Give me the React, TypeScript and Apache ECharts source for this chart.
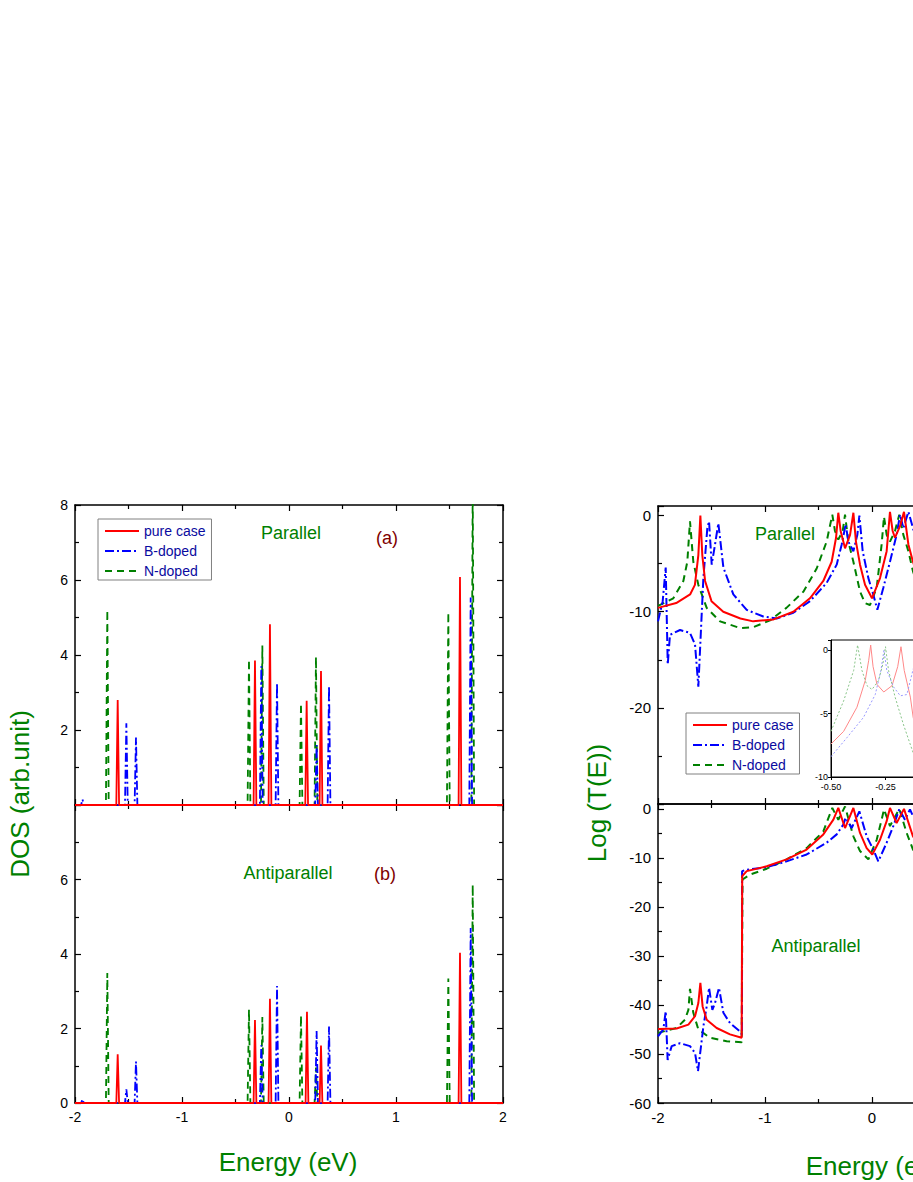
import React, { useEffect, useRef } from "react";
import * as echarts from "echarts";

type P = [number, number];

const seriesNames = ["pure case", "B-doped", "N-doped"];
const panelLabels = ["Parallel", "Antiparallel"];
const panelTags = ["(a)", "(b)"];

// ---- DOS, Parallel (a) ----
const dosParPure: P[] = [[-2,0],[-1.614,0],[-1.601,2.8],[-1.588,0],[-0.331,0],[-0.318,3.85],[-0.305,0],[-0.191,0],[-0.178,4.82],[-0.165,0],[0.152,0],[0.165,2.78],[0.178,0],[0.286,0],[0.299,3.57],[0.312,0],[1.585,0],[1.598,6.08],[1.611,0],[2,0]];
const dosParB: P[] = [[-2,0],[-1.943,0],[-1.93,0.15],[-1.917,0],[-1.533,0],[-1.52,2.18],[-1.507,0],[-1.443,0],[-1.43,1.8],[-1.417,0],[-0.272,0],[-0.259,3.7],[-0.246,0],[-0.125,0],[-0.112,3.26],[-0.099,0],[0.245,0],[0.258,1.6],[0.271,0],[0.361,0],[0.374,3.18],[0.387,0],[1.685,0],[1.698,5.53],[1.711,0],[2,0]];
const dosParN: P[] = [[-2,0],[-1.711,0],[-1.698,5.2],[-1.685,0],[-0.387,0],[-0.374,3.88],[-0.361,0],[-0.262,0],[-0.249,4.25],[-0.236,0],[0.099,0],[0.112,2.71],[0.125,0],[0.239,0],[0.252,3.95],[0.265,0],[1.476,0],[1.489,5.14],[1.502,0],[1.704,0],[1.717,8.6],[1.73,0],[2,0]];

// ---- DOS, Antiparallel (b) ----
const dosAntiPure: P[] = [[-2,0],[-1.614,0],[-1.601,1.31],[-1.588,0],[-0.331,0],[-0.318,2.23],[-0.305,0],[-0.191,0],[-0.178,2.8],[-0.165,0],[0.155,0],[0.168,2.45],[0.181,0],[0.286,0],[0.299,1.54],[0.312,0],[1.585,0],[1.598,4.03],[1.611,0],[2,0]];
const dosAntiB: P[] = [[-2,0],[-1.943,0],[-1.93,0.1],[-1.917,0],[-1.533,0],[-1.52,0.37],[-1.507,0],[-1.443,0],[-1.43,1.11],[-1.417,0],[-0.272,0],[-0.259,1.55],[-0.246,0],[-0.125,0],[-0.112,3.14],[-0.099,0],[0.245,0],[0.258,1.93],[0.271,0],[0.361,0],[0.374,2.05],[0.387,0],[1.685,0],[1.698,4.7],[1.711,0],[2,0]];
const dosAntiN: P[] = [[-2,0],[-1.711,0],[-1.698,3.49],[-1.685,0],[-0.387,0],[-0.374,2.51],[-0.361,0],[-0.262,0],[-0.249,2.31],[-0.236,0],[0.099,0],[0.112,2.35],[0.125,0],[0.239,0],[0.252,0.95],[0.265,0],[1.476,0],[1.489,3.34],[1.502,0],[1.704,0],[1.717,5.86],[1.73,0],[2,0]];

// ---- Log T(E), Parallel ----
const tParPure: P[] = [[-2,-9.6],[-1.83,-9.1],[-1.70,-8.2],[-1.655,-7.2],[-1.623,-4.1],[-1.604,0],[-1.586,-4.1],[-1.56,-6.8],[-1.50,-8.9],[-1.39,-10.0],[-1.23,-10.7],[-1.11,-11.0],[-0.92,-10.8],[-0.735,-10.0],[-0.58,-8.6],[-0.455,-6.8],[-0.377,-4.8],[-0.336,-2.3],[-0.315,0.3],[-0.293,-1.6],[-0.252,-3.4],[-0.205,-2.0],[-0.174,0.3],[-0.15,-2.7],[-0.112,-5.1],[-0.065,-7.2],[0,-8.6],[0.075,-6.5],[0.137,-3.7],[0.168,0.4],[0.193,-1.6],[0.215,-2.3],[0.262,-1.1],[0.299,0.4],[0.34,-3.0],[0.383,-4.8],[0.45,-7.0]];
const tParB: P[] = [[-2,-11.0],[-1.956,-8.9],[-1.928,-5.4],[-1.909,-15.5],[-1.888,-12.4],[-1.794,-11.9],[-1.701,-12.2],[-1.654,-13.4],[-1.623,-17.8],[-1.576,-6.5],[-1.539,-1.3],[-1.523,-0.6],[-1.498,-5.1],[-1.467,-3.0],[-1.436,-0.8],[-1.389,-5.4],[-1.296,-8.2],[-1.171,-9.8],[-1.016,-10.5],[-0.891,-10.7],[-0.735,-10.1],[-0.579,-8.9],[-0.424,-7.0],[-0.33,-5.1],[-0.283,-3.0],[-0.246,-0.9],[-0.221,-2.7],[-0.174,-3.7],[-0.137,-2.0],[-0.118,0],[-0.087,-3.7],[-0.034,-6.5],[0.012,-8.2],[0.05,-9.8],[0.106,-7.5],[0.168,-4.8],[0.23,-2.0],[0.262,0.1],[0.293,-1.3],[0.34,0.4],[0.383,-1.3],[0.45,-4.0]];
const tParN: P[] = [[-2,-9.4],[-1.857,-8.6],[-1.763,-6.8],[-1.726,-4.8],[-1.701,-0.6],[-1.67,-4.8],[-1.623,-7.2],[-1.545,-9.6],[-1.42,-11.0],[-1.234,-11.7],[-1.11,-11.6],[-0.953,-10.9],[-0.8,-9.6],[-0.64,-7.9],[-0.517,-5.5],[-0.424,-2.7],[-0.371,0.1],[-0.346,-1.6],[-0.315,-2.5],[-0.274,-1.6],[-0.252,0.1],[-0.221,-2.7],[-0.174,-4.8],[-0.112,-7.9],[-0.065,-9.1],[-0.019,-9.3],[0.044,-7.5],[0.09,-3.0],[0.112,-0.1],[0.137,-2.0],[0.168,-2.7],[0.215,-1.6],[0.255,0.1],[0.293,-2.0],[0.34,-3.7],[0.383,-5.8],[0.45,-8.0]];

// ---- Log T(E), Antiparallel ----
const tAntiPure: P[] = [[-2,-44.9],[-1.826,-44.8],[-1.716,-44.0],[-1.654,-42.3],[-1.623,-39.6],[-1.604,-35.5],[-1.583,-40.3],[-1.545,-43.0],[-1.452,-44.7],[-1.327,-46.0],[-1.218,-46.7],[-1.215,-46.8],[-1.213,-13.7],[-1.171,-12.7],[-0.984,-11.7],[-0.798,-10.3],[-0.611,-8.3],[-0.455,-5.2],[-0.361,-2.2],[-0.315,0.2],[-0.252,-3.9],[-0.174,0.2],[-0.112,-4.9],[-0.05,-8.0],[0.003,-9.3],[0.075,-6.3],[0.137,-2.5],[0.168,0.2],[0.23,-2.9],[0.299,0],[0.383,-5.6],[0.45,-8.0]];
const tAntiB: P[] = [[-2,-46.4],[-1.95,-45.0],[-1.928,-41.3],[-1.91,-51.2],[-1.872,-48.4],[-1.794,-47.8],[-1.701,-48.4],[-1.654,-49.8],[-1.626,-53.5],[-1.576,-44.4],[-1.545,-40.3],[-1.523,-36.5],[-1.492,-41.0],[-1.467,-39.6],[-1.43,-36.5],[-1.389,-41.6],[-1.327,-43.7],[-1.234,-45.4],[-1.216,-46.0],[-1.214,-12.7],[-1.171,-12.4],[-0.984,-11.9],[-0.798,-10.7],[-0.611,-9.3],[-0.424,-6.9],[-0.33,-5.2],[-0.268,-3.2],[-0.246,-1.8],[-0.19,-3.9],[-0.118,-0.5],[-0.05,-5.6],[0.012,-8.3],[0.059,-10.7],[0.137,-6.9],[0.199,-3.5],[0.255,-0.1],[0.308,-2.2],[0.355,-0.1],[0.383,-1.5],[0.45,-4.0]];
const tAntiN: P[] = [[-2,-45.7],[-1.826,-44.7],[-1.748,-43.0],[-1.716,-41.0],[-1.701,-36.7],[-1.67,-41.6],[-1.623,-45.0],[-1.514,-46.7],[-1.358,-47.4],[-1.218,-47.6],[-1.212,-47.6],[-1.21,-14.4],[-1.14,-13.4],[-0.984,-12.2],[-0.798,-10.3],[-0.611,-8.0],[-0.455,-4.6],[-0.371,0.2],[-0.315,-2.2],[-0.252,0.5],[-0.174,-5.6],[-0.112,-8.6],[-0.034,-10.3],[0.044,-6.3],[0.09,-2.2],[0.112,-0.1],[0.168,-3.5],[0.255,0],[0.324,-4.9],[0.383,-8.3],[0.45,-10.0]];

// ---- Inset (zoom of the Parallel transmission) ----
const insetPure: P[] = [[-0.5,-7.4],[-0.442,-6.4],[-0.381,-4.5],[-0.343,-2.4],[-0.327,-0.8],[-0.318,0.4],[-0.307,-1.3],[-0.289,-2.7],[-0.258,-3.3],[-0.22,-2.8],[-0.194,-1.3],[-0.179,0.27],[-0.164,-1.6],[-0.136,-3.7],[-0.123,-5.3],[-0.1,-7.0]];
const insetB: P[] = [[-0.5,-8.4],[-0.427,-6.9],[-0.351,-5.3],[-0.297,-3.5],[-0.271,-1.6],[-0.257,0],[-0.244,-1.6],[-0.213,-2.9],[-0.182,-3.6],[-0.152,-3.5],[-0.123,-1.5],[-0.1,-0.3]];
const insetN: P[] = [[-0.5,-6.4],[-0.442,-4.0],[-0.396,-1.6],[-0.378,0.4],[-0.358,-1.6],[-0.335,-2.8],[-0.312,-3.1],[-0.282,-2.4],[-0.262,-1.1],[-0.25,0.27],[-0.236,-1.6],[-0.206,-3.7],[-0.167,-5.9],[-0.123,-8.1],[-0.1,-9.0]];

const RED = "#ff0000";
const BLUE = "#0000ff";
const GREEN = "#008000";
const FONT = "'Liberation Sans', Arial, Helvetica, sans-serif";
const lineTypes: any[] = ["solid", [9, 3, 2, 3], [7, 5]];
const colors = [RED, BLUE, GREEN];

function xAxis(gridIndex: number, pos: "bottom" | "top", labels: boolean, fontSize: number, maxLabel: number) {
  return {
    type: "value", gridIndex, min: -2, max: 2, interval: 1, position: pos,
    axisLine: { show: true, onZero: false, lineStyle: { color: "#000", width: 1.5 } },
    axisTick: { show: true, inside: true, length: 6, lineStyle: { color: "#000", width: 1.2 } },
    minorTick: { show: true, splitNumber: 2, length: 4, lineStyle: { color: "#000", width: 1.2 } },
    axisLabel: {
      show: labels, color: "#000", fontSize, fontFamily: FONT, margin: 7,
      formatter: (v: number) => (v > maxLabel ? "" : String(v)),
    },
    splitLine: { show: false },
  };
}

function yAxis(gridIndex: number, pos: "left" | "right", min: number, max: number, interval: number, labels: boolean, hide: number[], fontSize: number) {
  return {
    type: "value", gridIndex, min, max, interval, position: pos,
    axisLine: { show: true, onZero: false, lineStyle: { color: "#000", width: 1.5 } },
    axisTick: { show: true, inside: true, length: 6, lineStyle: { color: "#000", width: 1.2 } },
    minorTick: { show: true, splitNumber: 2, length: 4, lineStyle: { color: "#000", width: 1.2 } },
    axisLabel: {
      show: labels, color: "#000", fontSize, fontFamily: FONT, margin: 7,
      formatter: (v: number) => (hide.includes(v) || v % interval !== 0 ? "" : String(v)),
    },
    splitLine: { show: false },
  };
}

function lineSeries(name: string, data: P[], idx: number, axis: number, width: number) {
  return {
    type: "line", name, data, xAxisIndex: axis, yAxisIndex: axis,
    showSymbol: false, symbol: "none", clip: true,
    lineStyle: { color: colors[idx], width, type: lineTypes[idx] },
    itemStyle: { color: colors[idx] },
    z: 5 - idx,
  };
}

function legend(left: number, top: number) {
  return {
    data: seriesNames, left, top, orient: "vertical",
    itemWidth: 34, itemHeight: 12, itemGap: 6,
    padding: [5, 6, 2, 6],
    borderColor: "#808080", borderWidth: 1, backgroundColor: "#fff",
    selectedMode: false,
    itemStyle: { opacity: 0 },
    textStyle: { color: "#0a0aa0", fontSize: 14, fontFamily: FONT },
  };
}

function text(t: string, x: number, y: number, size: number, color: string, rotation = 0) {
  return {
    type: "text", x, y, rotation, z: 100,
    style: { text: t, fill: color, font: `${size}px ${FONT}`, textAlign: "center", textVerticalAlign: "middle" },
  };
}

export default function App() {
  const ref = useRef<HTMLDivElement>(null);
  useEffect(() => {
    if (!ref.current) return;
    const chart = echarts.init(ref.current, null, { renderer: "svg" });
    const option: any = {
      animation: false,
      backgroundColor: "#fff",
      grid: [
        { left: 75, top: 505, width: 428, height: 300 },
        { left: 75, top: 805, width: 428, height: 298 },
        { left: 658, top: 506, width: 428, height: 298 },
        { left: 658, top: 804, width: 428, height: 299 },
        { left: 831, top: 640, width: 109, height: 137, show: true, borderColor: "#000", borderWidth: 1, backgroundColor: "#fff", z: 4 },
      ],
      xAxis: [
        xAxis(0, "bottom", false, 14, 2), xAxis(0, "top", false, 14, 2),
        xAxis(1, "bottom", true, 14, 2), xAxis(1, "top", false, 14, 2),
        xAxis(2, "bottom", false, 15, 0), xAxis(2, "top", false, 15, 0),
        xAxis(3, "bottom", true, 15, 0), xAxis(3, "top", false, 15, 0),
        {
          type: "value", gridIndex: 4, min: -0.5, max: 0, interval: 0.25, position: "bottom", z: 5,
          axisLine: { show: true, onZero: false, lineStyle: { color: "#000", width: 1 } },
          axisTick: { show: true, inside: false, length: 3, lineStyle: { color: "#000" } },
          axisLabel: { color: "#000", fontSize: 9, fontFamily: FONT, margin: 5, formatter: (v: number) => (v > -0.2 ? "" : v.toFixed(2)) },
          splitLine: { show: false },
        },
      ],
      yAxis: [
        yAxis(0, "left", 0, 8, 2, true, [0], 14), yAxis(0, "right", 0, 8, 2, false, [], 14),
        yAxis(1, "left", 0, 8, 2, true, [8], 14), yAxis(1, "right", 0, 8, 2, false, [], 14),
        yAxis(2, "left", -30, 1, 10, true, [-30], 15), yAxis(2, "right", -30, 1, 10, false, [], 15),
        yAxis(3, "left", -60, 1, 10, true, [], 15), yAxis(3, "right", -60, 1, 10, false, [], 15),
        {
          type: "value", gridIndex: 4, min: -10, max: 0.8, interval: 5, position: "left", z: 5,
          axisLine: { show: true, onZero: false, lineStyle: { color: "#000", width: 1 } },
          axisTick: { show: true, inside: false, length: 3, lineStyle: { color: "#000" } },
          axisLabel: { color: "#000", fontSize: 9, fontFamily: FONT, margin: 3, formatter: (v: number) => (v % 5 === 0 ? String(v) : "") },
          splitLine: { show: false },
        },
      ],
      legend: [legend(98, 519), legend(686, 713)],
      series: [
        lineSeries(seriesNames[0], dosParPure, 0, 0, 1.8),
        lineSeries(seriesNames[1], dosParB, 1, 0, 1.8),
        lineSeries(seriesNames[2], dosParN, 2, 0, 1.8),
        lineSeries(seriesNames[0], dosAntiPure, 0, 2, 1.8),
        lineSeries(seriesNames[1], dosAntiB, 1, 2, 1.8),
        lineSeries(seriesNames[2], dosAntiN, 2, 2, 1.8),
        lineSeries(seriesNames[0], tParPure, 0, 4, 2),
        lineSeries(seriesNames[1], tParB, 1, 4, 2),
        lineSeries(seriesNames[2], tParN, 2, 4, 2),
        lineSeries(seriesNames[0], tAntiPure, 0, 6, 2),
        lineSeries(seriesNames[1], tAntiB, 1, 6, 2),
        lineSeries(seriesNames[2], tAntiN, 2, 6, 2),
        { type: "line", name: "inset pure", data: insetPure, xAxisIndex: 8, yAxisIndex: 8, symbol: "none", z: 6,
          lineStyle: { color: "#ff8888", width: 1, type: "solid" } },
        { type: "line", name: "inset B", data: insetB, xAxisIndex: 8, yAxisIndex: 8, symbol: "none", z: 6,
          lineStyle: { color: "#9999ff", width: 1, type: [2, 2] } },
        { type: "line", name: "inset N", data: insetN, xAxisIndex: 8, yAxisIndex: 8, symbol: "none", z: 6,
          lineStyle: { color: "#88c488", width: 1, type: [2, 2] } },
      ],
      graphic: [
        text("DOS (arb.unit)", 20, 794, 26, GREEN, Math.PI / 2),
        text("Log (T(E))", 597, 803, 26, GREEN, Math.PI / 2),
        text("Energy (eV)", 288, 1162, 26, GREEN),
        text("Energy (eV)", 875, 1166, 26, GREEN),
        text(panelLabels[0], 291, 533, 18, GREEN),
        text(panelTags[0], 387, 538, 18, "#800000"),
        text(panelLabels[1], 288, 873, 18, GREEN),
        text(panelTags[1], 385, 874, 18, "#800000"),
        text(panelLabels[0], 785, 534, 18, GREEN),
        text(panelLabels[1], 816, 946, 18, GREEN),
      ],
    };
    chart.setOption(option);
    return () => chart.dispose();
  }, []);
  return (
    <div style={{ position: "fixed", left: 0, top: 0, width: 913, height: 1182, overflow: "hidden", background: "#fff" }}>
      <div ref={ref} style={{ width: 1120, height: 1182 }} />
    </div>
  );
}
